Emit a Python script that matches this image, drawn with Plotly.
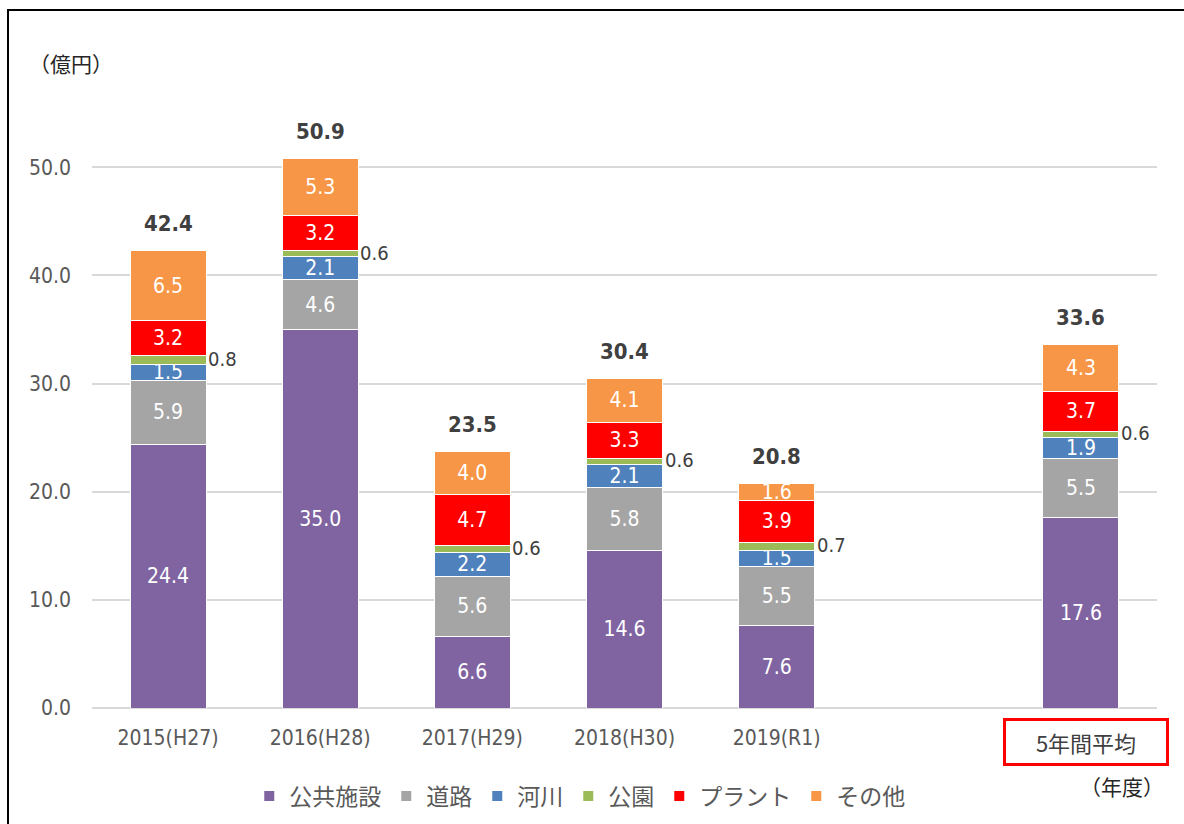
import plotly.graph_objects as go

categories = ["2015(H27)", "2016(H28)", "2017(H29)", "2018(H30)", "2019(R1)", "5年間平均"]
x_pos = [0, 1, 2, 3, 4, 6]
series_names = ["公共施設", "道路", "河川", "公園", "プラント", "その他"]
koukyo = [24.4, 35.0, 6.6, 14.6, 7.6, 17.6]
douro = [5.9, 4.6, 5.6, 5.8, 5.5, 5.5]
kasen = [1.5, 2.1, 2.2, 2.1, 1.5, 1.9]
kouen = [0.8, 0.6, 0.6, 0.6, 0.7, 0.6]
plant = [3.2, 3.2, 4.7, 3.3, 3.9, 3.7]
sonota = [6.5, 5.3, 4.0, 4.1, 1.6, 4.3]
totals = [42.4, 50.9, 23.5, 30.4, 20.8, 33.6]
colors = ["#8064A2", "#A5A5A5", "#4F81BD", "#9BBB59", "#FF0000", "#F79646"]

series = [koukyo, douro, kasen, kouen, plant, sonota]

NUM = "DejaVu Sans Condensed, Liberation Sans Narrow, Noto Sans, sans-serif"
JP = "Noto Sans CJK JP, sans-serif"

fig = go.Figure()
for name, vals, col in zip(series_names, series, colors):
    show_text = name != "公園"
    fig.add_trace(go.Bar(
        x=x_pos, y=vals, name=name, width=0.5,
        marker=dict(color=col, line=dict(color="white", width=1)),
        text=[f"{v:.1f}" for v in vals] if show_text else None,
        textposition="inside" if show_text else "none",
        insidetextanchor="middle", textangle=0,
        textfont=dict(color="white", size=21, family=NUM),
        hoverinfo="skip",
    ))

annotations = []
# 公園 labels outside right
for i, xp in enumerate(x_pos):
    base = koukyo[i] + douro[i] + kasen[i]
    annotations.append(dict(
        x=xp + 0.25, y=base + kouen[i] / 2, xref="x", yref="y",
        text=f"{kouen[i]:.1f}", showarrow=False, xanchor="left", yanchor="middle",
        xshift=0, yshift=1, font=dict(size=20, color="#404040", family=NUM),
    ))
# totals
for i, xp in enumerate(x_pos):
    stack = sum(s[i] for s in series)
    annotations.append(dict(
        x=xp, y=stack, xref="x", yref="y", text=f"<b>{totals[i]:.1f}</b>",
        showarrow=False, xanchor="center", yanchor="middle", yshift=27,
        font=dict(size=22, color="#404040", family=NUM),
    ))

# axis unit texts
annotations.append(dict(x=-0.02, y=0.994, xref="paper", yref="paper", text="（億円）",
                        showarrow=False, xanchor="center", yanchor="middle",
                        font=dict(size=21, color="#262626", family=JP)))
annotations.append(dict(x=0.967, y=-0.12, xref="paper", yref="paper", text="（年度）",
                        showarrow=False, xanchor="center", yanchor="middle",
                        font=dict(size=21, color="#262626", family=JP)))
# boxed 5年間平均 label
annotations.append(dict(x=6, y=-0.052, xref="x", yref="paper", text="5年間平均",
                        showarrow=False, xanchor="center", yanchor="middle", xshift=5,
                        width=158, height=40, borderpad=1,
                        bordercolor="#FF0000", borderwidth=3,
                        font=dict(size=22, color="#404040", family=JP)))

L, R, T, B = 92, 27, 59, 116
PW = 1184 - L - R
PH = 824 - T - B

def px_x(p):
    return (p - L) / PW

def px_y(p):
    return (824 - B - p) / PH

shapes = [dict(type="rect", xref="paper", yref="paper",
               x0=px_x(8), x1=px_x(1190), y0=px_y(840), y1=px_y(10),
               line=dict(color="#000000", width=2), fillcolor="rgba(0,0,0,0)", layer="below")]

fig.update_layout(
    width=1184, height=824,
    margin=dict(l=L, r=R, t=T, b=B, autoexpand=False),
    barmode="stack",
    plot_bgcolor="white", paper_bgcolor="white",
    uniformtext=dict(minsize=21, mode="show"),
    font=dict(family=NUM, color="#595959"),
    xaxis=dict(range=[-0.5, 6.5], tickvals=x_pos[:5], ticktext=categories[:5],
               showgrid=False, zeroline=False, showline=False,
               tickfont=dict(size=21, color="#595959", family=NUM),
               ticks="", ticklabelstandoff=15),
    yaxis=dict(range=[0, 60], tickvals=[0, 10, 20, 30, 40, 50], tickformat=".1f",
               showgrid=True, gridcolor="#D9D9D9", gridwidth=1.5,
               zeroline=True, zerolinecolor="#D9D9D9", zerolinewidth=1.5,
               showline=False, ticks="", ticklabelstandoff=20,
               tickfont=dict(size=21, color="#595959", family=NUM)),
    legend=dict(orientation="h", x=0.458, xanchor="center", y=px_y(796), yanchor="middle",
                font=dict(size=23, color="#595959", family=JP),
                itemsizing="constant", traceorder="normal", bgcolor="rgba(0,0,0,0)"),
    annotations=annotations,
    shapes=shapes,
    showlegend=True,
)

fig.write_html("out.html", config={"displayModeBar": False},
               post_script="document.body.style.margin='0';document.body.style.overflow='hidden';")
